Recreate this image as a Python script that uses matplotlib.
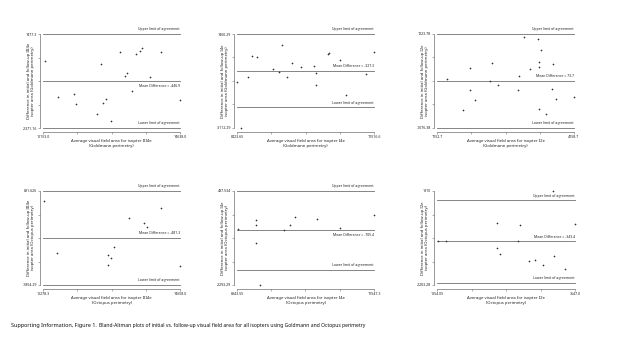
import numpy as np
import matplotlib
matplotlib.use("Agg")
import matplotlib.pyplot as plt

plt.rcParams['font.family'] = ['Noto Sans', 'DejaVu Sans']

# ---- Goldmann III4e ----
g3_avg = [10207, 10639, 11158, 11223, 11936, 12044, 12131, 12217, 12390, 12660,
          12844, 12887, 13071, 13211, 13319, 13406, 13654, 14000, 14638]
g3_diff = [377.8, -1106.6, -982.9, -1408.9, -1807.5, 254.1, -1353.9, -1202.8, -2082.4, 721.4,
           -226.9, -103.3, -872.9, 652.7, 762.6, 886.3, -295.7, 721.4, -1216.5]

# ---- Goldmann I4e ----
g4_avg = [8423.65, 8521.5, 8672, 8770, 8883, 9236, 9364, 9447, 9560, 9658,
          9868, 10169, 10199, 10199, 10470, 10493, 10756, 10892, 11343, 11509]
g4_diff = [-891.4, -3112.29, -646.4, 382.5, 333.5, -254.5, -401.4, 905.0, -630.1, 39.5,
           -140.2, -74.8, -417.8, -1038.4, 480.4, 529.4, 219.1, -1528.3, -499.4, 562.1]

# ---- Goldmann I2e ----
g2_avg = [1371.6, 1714.5, 1867.7, 1882.3, 1977.1, 2312.8, 2349.2, 2495.2, 2925.6, 2954.8, 3057.0,
          3188.3, 3363.4, 3392.6, 3399.9, 3443.7, 3399.9, 3538.5, 3684.4, 3706.3, 3764.7, 4151.4]
g2_diff = [123.0, -632.8, 394.1, -148.1, -402.8, 81.9, 509.1, -16.7, -156.3, 188.7, 1158.1,
           369.4, 1100.6, 541.9, 418.7, 821.2, -608.2, -739.6, -131.7, 484.4, -378.1, -312.4]

# ---- Octopus III4e ----
o3_avg = [10299.6, 10724.8, 12340.5, 12351.1, 12446.8, 12553.1, 13031.5, 13509.8, 13605.5, 14052, 14658]
o3_diff = [609.2, -919.5, -968.2, -1270.0, -1055.8, -744.2, 103.0, -33.4, -160.0, 395.0, -1289.5]

# ---- Octopus I4e ----
o4_avg = [8956.2, 9310.1, 9310.1, 9310.1, 9373.3, 9841, 9942.1, 10036.9, 10460.3, 10902.8, 11541]
o4_diff = [-676.1, -414.7, -550.2, -1063.5, -2293.29, -695.5, -540.6, -327.5, -375.9, -647.1, -259.7]

# ---- Octopus I2e ----
o2_avg = [1072.9, 1229.8, 2177.8, 2177.8, 2240.6, 2567.0, 2611.0, 2780.5, 2887.2, 3050.5,
          3232.5, 3245.1, 3464.8, 3647.0]
o2_diff = [-338.9, -338.9, 458.1, -623.5, -865.4, -324.7, 344.2, -1178.5, -1135.8, -1335.1,
           1810.0, -965.0, -1505.8, 401.1]

# mean difference and upper limit of agreement per panel
mean_diff = [-446.93, -327.3, 73.7, -481.33, -705.4, -343.4]
mean_text = ["-446.9", "-327.3", "73.7", "-481.3", "-705.4", "-343.4"]
upper_loa = [1477.3, 1460.29, 1223.78, 891.626, 437.534, 1411.6]

# axis ranges and their end labels
x_ranges = [(10153.0, 14638.0), (8423.65, 11516.6), (1152.7, 4158.7),
            (10278.3, 14658.0), (8943.55, 11547.3), (1054.05, 3647.0)]
x_end_labels = [("10153.0", "14638.0"), ("8423.65", "11516.6"), ("1152.7", "4158.7"),
                ("10278.3", "14658.0"), ("8943.55", "11547.3"), ("1054.05", "3647.0")]
y_ranges = [(-2371.16, 1477.3), (-3112.29, 1460.29), (-1076.38, 1223.78),
            (-1854.29, 891.626), (-2293.29, 437.534), (-2203.28, 1810.0)]
y_end_labels = [("-2371.16", "1477.3"), ("-3112.29", "1460.29"), ("-1076.38", "1223.78"),
                ("-1854.29", "891.626"), ("-2293.29", "437.534"), ("-2203.28", "1810")]

isopters = ["III4e", "I4e", "I2e", "III4e", "I4e", "I2e"]
methods = ["Goldmann", "Goldmann", "Goldmann", "Octopus", "Octopus", "Octopus"]
mean_label_above = [False, True, True, True, False, True]

panels_x = [g3_avg, g4_avg, g2_avg, o3_avg, o4_avg, o2_avg]
panels_y = [g3_diff, g4_diff, g2_diff, o3_diff, o4_diff, o2_diff]

W, H = 640, 345
fig = plt.figure(figsize=(W / 100, H / 100), dpi=100)

# panel boxes in pixels: left, right, top, bottom
boxes = [(43, 180, 34, 128), (237, 374, 34, 128), (437, 574, 34, 128),
         (43, 180, 191, 285), (237, 374, 191, 285), (437, 575, 191, 285)]

line_col = "#707070"
txt_col = "#222222"
fs_tick = 2.6
fs_ref = 2.5
fs_lab = 3.05

for i in range(6):
    l, r, t, b = boxes[i]
    ax = fig.add_axes([l / W, 1 - b / H, (r - l) / W, (b - t) / H])
    x0, x1 = x_ranges[i]
    y0, y1 = y_ranges[i]
    ax.set_xlim(x0, x1)
    ax.set_ylim(y0, y1)
    ax.patch.set_alpha(0)

    m = mean_diff[i]
    up = upper_loa[i]
    lo = 2 * m - up
    for yv in (up, m, lo):
        ax.plot([x0, x1], [yv, yv], color=line_col, lw=0.6, clip_on=False)

    dy = (y1 - y0) * 0.03
    ax.text(x1, up + dy, "Upper limit of agreement", ha="right", va="bottom",
            fontsize=fs_ref, color=txt_col)
    ax.text(x1, lo + dy, "Lower limit of agreement", ha="right", va="bottom",
            fontsize=fs_ref, color=txt_col)
    if mean_label_above[i]:
        ax.text(x1, m + dy, "Mean Difference = " + mean_text[i], ha="right", va="bottom",
                fontsize=fs_ref, color=txt_col)
    else:
        ax.text(x1, m - dy, "Mean Difference = " + mean_text[i], ha="right", va="top",
                fontsize=fs_ref, color=txt_col)

    ax.plot(panels_x[i], panels_y[i], linestyle="none", marker="+", ms=1.7,
            mew=0.45, color="#333333", clip_on=False)

    for s in ("top", "right"):
        ax.spines[s].set_visible(False)
    ax.spines["left"].set_position(("outward", 2))
    ax.spines["bottom"].set_position(("outward", 2.7))
    for s in ("left", "bottom"):
        ax.spines[s].set_color(line_col)
        ax.spines[s].set_linewidth(0.5)

    ax.set_xticks(np.linspace(x0, x1, 5))
    ax.set_xticklabels([x_end_labels[i][0], "", "", "", x_end_labels[i][1]])
    ax.set_yticks(np.linspace(y0, y1, 5))
    ax.set_yticklabels([y_end_labels[i][0], "", "", "", y_end_labels[i][1]])
    ax.tick_params(axis="both", length=1.5, width=0.4, color=line_col,
                   labelsize=fs_tick, labelcolor=txt_col, pad=0.8)

    ax.set_xlabel("Average visual field area for isopter %s\n(%s perimetry)"
                  % (isopters[i], methods[i]), fontsize=fs_lab, color=txt_col,
                  linespacing=1.3)
    ax.xaxis.set_label_coords(0.5, -11 / (b - t), transform=ax.transAxes)
    ax.xaxis.label.set_va("top")
    ax.set_ylabel("Difference in initial and follow-up %s\nisopter area (%s perimetry)"
                  % (isopters[i], methods[i]), fontsize=fs_lab, color=txt_col,
                  linespacing=1.3)
    ax.yaxis.set_label_coords(-12 / (r - l), 0.5, transform=ax.transAxes)
    ax.yaxis.label.set_va("center")

# caption: bold lead-in followed directly by the plain description
lead = fig.text(11 / W, 1 - 326 / H, "Supporting Information, Figure 1.", fontsize=3.9,
                fontweight="bold", color="#111111", va="center", ha="left")
fig.canvas.draw()
bb = lead.get_window_extent()
fig.text((bb.x1 + 2) / W, 1 - 326 / H,
         "Bland-Altman plots of initial vs. follow-up visual field area for all isopters "
         "using Goldmann and Octopus perimetry",
         fontsize=3.65, color="#111111", va="center", ha="left")

fig.savefig("out.png", dpi=100, facecolor="white")
